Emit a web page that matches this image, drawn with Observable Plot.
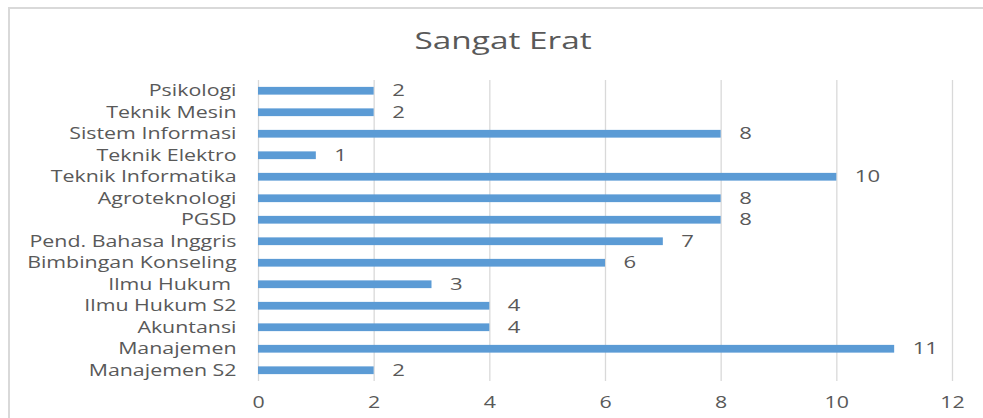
<!DOCTYPE html>
<html><head><meta charset="utf-8">
<script src="https://cdn.jsdelivr.net/npm/d3@7"></script>
<script src="https://cdn.jsdelivr.net/npm/@observablehq/plot@0.6"></script>
<style>
html,body{margin:0;padding:0;background:#fff;width:983px;height:418px;overflow:hidden;font-family:"Open Sans",sans-serif;}
#frame{position:absolute;left:8px;top:7px;width:990px;height:430px;border:2px solid #d9d9d9;box-sizing:border-box;}
#title{position:absolute;left:0;top:25px;width:1006px;text-align:center;font-size:23px;line-height:30px;color:#595959;}
#title span{display:inline-block;transform:scaleX(1.45);}
#chart{position:absolute;left:0;top:0;}
</style></head>
<body>
<div id="frame"></div>
<div id="title"><span>Sangat Erat</span></div>
<div id="chart"></div>
<script>
const categories = ["Psikologi","Teknik Mesin","Sistem Informasi","Teknik Elektro","Teknik Informatika","Agroteknologi","PGSD","Pend. Bahasa Inggris","Bimbingan Konseling","Ilmu Hukum ","Ilmu Hukum S2","Akuntansi","Manajemen","Manajemen S2"];
const values = [2,2,8,1,10,8,8,7,6,3,4,4,11,2];
const xTicks = [0,2,4,6,8,10,12];
const data = categories.map((c,i)=>({category:c, value:values[i]}));
const chart = Plot.plot({
  width: 983, height: 418,
  marginTop: 80, marginBottom: 37, marginLeft: 258, marginRight: 31,
  style: {fontFamily: '"Open Sans", sans-serif', fontSize: "15.5px", color: "#595959", background: "transparent"},
  x: {domain: [0,12], ticks: xTicks, label: null, tickSize: 0, tickPadding: 15},
  y: {domain: categories, label: null, tickSize: 0, tickPadding: 22, paddingInner: 0.64, paddingOuter: 0.32, round: false},
  marks: [
    Plot.gridX(xTicks, {stroke: "#d9d9d9", strokeOpacity: 1, strokeWidth: 1.3}),
    Plot.barX(data, {x: "value", y: "category", fill: "#5b9bd5"}),
    Plot.text(data, {x: "value", y: "category", text: d => String(d.value), dx: 18, textAnchor: "start", fill: "#595959", fontSize: 16})
  ]
});
chart.querySelectorAll("text").forEach(t => {
  const tr = t.getAttribute("transform") || "";
  t.setAttribute("transform", (tr + " scale(1.38,1)").trim());
});
document.getElementById("chart").appendChild(chart);
</script>
</body></html>
